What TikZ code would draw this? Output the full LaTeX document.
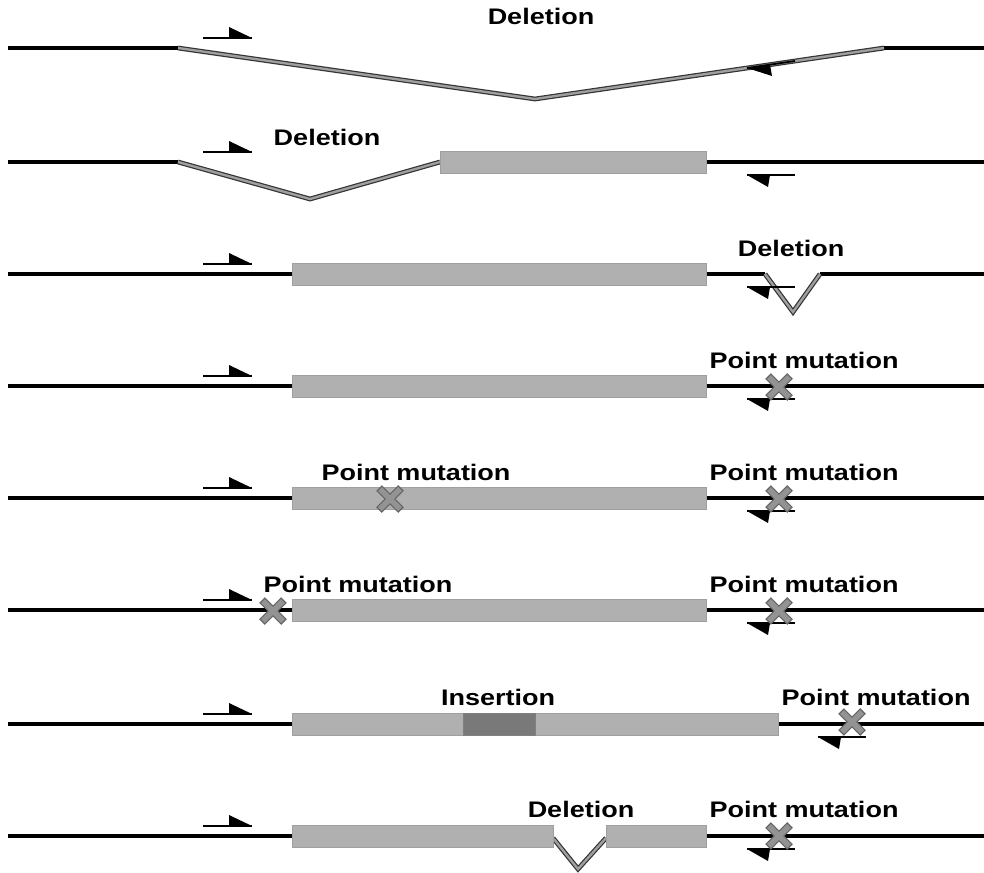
\documentclass[tikz,border=0pt]{standalone}
\usepackage{fontspec}
\setmainfont{Liberation Sans}[FakeStretch=1.2]
\usetikzlibrary{calc}

\newcommand{\pointmut}[2]{%
  \draw[line width=8pt, black!60] (#1-11,#2-11) -- (#1+11,#2+11) (#1-11,#2+11) -- (#1+11,#2-11);
  \draw[line width=5.5pt, gray!85] (#1-10,#2-10) -- (#1+10,#2+10) (#1-10,#2+10) -- (#1+10,#2-10);
}

\begin{document}
\begin{tikzpicture}[x=1pt, y=-1pt,
    backbone/.style={line width=3.5pt, black},
    genebox/.style={fill=gray!62, draw=gray!75, line width=0.6pt},
    insbox/.style={fill=gray!95!black, draw=gray!100!black, line width=0.6pt},
    deletion/.style={draw=black!80, double=gray!75, double distance=2.4pt, line width=1.2pt},
    primer/.style={line width=1.8pt, black},
    lbl/.style={font=\bfseries\fontsize{22.5}{26}\selectfont, anchor=base, inner sep=0pt}]
  \useasboundingbox (0,0) rectangle (984,872);

  % backbones
  \draw[backbone] (8,48) -- (178,48) (884,48) -- (984,48);
  \draw[backbone] (8,162) -- (178,162) (706,162) -- (984,162);
  \draw[backbone] (8,274) -- (765,274) (820,274) -- (984,274);
  \foreach \y in {386,498,610,724}
    \draw[backbone] (8,\y) -- (984,\y);
  \draw[backbone] (8,836) -- (553,836) (606,836) -- (984,836);

  % deletions
  \draw[deletion] (178,48) -- (535,99) -- (884,48);
  \draw[deletion] (178,162) -- (310,199) -- (440,162);
  \draw[deletion] (765,274) -- (793,312) -- (820,274);
  \draw[deletion] (553,838) -- (578,869) -- (606,838);

  % gene boxes
  \draw[genebox] (440,151) rectangle (706,173);
  \foreach \y in {274,386,498,610}
    \draw[genebox] (292,\y-11) rectangle (706,\y+11);
  \draw[genebox] (292,713) rectangle (778,735);
  \draw[insbox] (463,713) rectangle (535,735);
  \draw[genebox] (292,825) rectangle (553,847);
  \draw[genebox] (606,825) rectangle (706,847);

  % forward primers
  \foreach \y in {48,162,274,386,498,610,724,836} {
    \draw[primer] (203,\y-10) -- (252,\y-10);
    \fill (229,\y-10) -- (252,\y-10) -- (229,\y-21) -- cycle;
  }
  % reverse primers
  \foreach \x/\y in {747/162,747/274,747/386,747/498,747/610,818/724,747/836} {
    \draw[primer] (\x,\y+13) -- (\x+48,\y+13);
    \fill (\x,\y+13) -- (\x+23,\y+13) -- (\x+21,\y+25) -- cycle;
  }
  \draw[primer] (747,68) -- (795,61);
  \fill (747,68) -- (770,64.7) -- (772,76) -- cycle;

  % point mutations
  \pointmut{779}{387}
  \pointmut{390}{499}
  \pointmut{779}{499}
  \pointmut{273}{611}
  \pointmut{779}{611}
  \pointmut{852}{722}
  \pointmut{779}{836}

  % labels
  \node[lbl] (del1) at (541,25) {Deletion};
  \node[lbl] (del2) at (327,145) {Deletion};
  \node[lbl] (del3) at (791,256) {Deletion};
  \node[lbl] (pm4) at (804,368) {Point mutation};
  \node[lbl] (pm5a) at (416,480) {Point mutation};
  \node[lbl] (pm5b) at (804,480) {Point mutation};
  \node[lbl] (pm6a) at (358,592) {Point mutation};
  \node[lbl] (pm6b) at (804,592) {Point mutation};
  \node[lbl] (ins7) at (498,705) {Insertion};
  \node[lbl] (pm7) at (876,705) {Point mutation};
  \node[lbl] (del8) at (581,817) {Deletion};
  \node[lbl] (pm8) at (804,817) {Point mutation};
\end{tikzpicture}
\end{document}
